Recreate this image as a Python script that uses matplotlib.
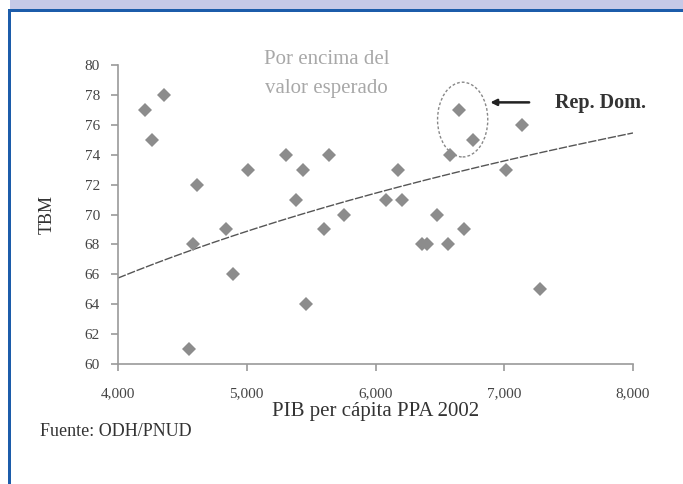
import numpy as np
import matplotlib.pyplot as plt
from matplotlib.patches import Rectangle, Ellipse

# PIB per capita PPA 2002 vs TBM
pib = [4210, 4264, 4357, 4613, 4582, 4838, 4892, 4551, 5008, 5303,
       5435, 5381, 5637, 5598, 5753, 5459, 6645, 6754, 6576, 7134,
       6172, 7010, 6079, 6203, 6475, 6685, 6362, 6402, 6560, 7274]
tbm = [77, 75, 78, 72, 68, 69, 66, 61, 73, 74,
       73, 71, 74, 69, 70, 64, 77, 75, 74, 76,
       73, 73, 71, 71, 70, 69, 68, 68, 68, 65]

# tendencia logaritmica
trend_a = 65.75
trend_b = 14.0
trend_x = np.linspace(4000, 8000, 200)

xticks = [4000, 5000, 6000, 7000, 8000]
xtick_labels = ['4,000', '5,000', '6,000', '7,000', '8,000']
yticks = [60, 62, 64, 66, 68, 70, 72, 74, 76, 78, 80]

plt.rcParams['font.family'] = ['Liberation Serif', 'DejaVu Serif']

W, H = 683, 484
fig = plt.figure(figsize=(W / 100, H / 100), dpi=100)
ax = fig.add_axes([118 / W, 1 - 364 / H, (633 - 118) / W, (364 - 65) / H])

# marco azul
fig.patches.append(Rectangle((10 / W, 1 - 10 / H), 1, 10 / H, transform=fig.transFigure,
                             facecolor='#c6c9e7', edgecolor='none'))
fig.patches.append(Rectangle((8 / W, 1 - 12 / H), 1, 3 / H, transform=fig.transFigure,
                             facecolor='#1c5caa', edgecolor='none'))
fig.patches.append(Rectangle((8 / W, 0), 2.5 / W, 1 - 10 / H, transform=fig.transFigure,
                             facecolor='#1c5caa', edgecolor='none'))

ax.plot(trend_x, trend_a + trend_b * np.log(trend_x / 4000), color='#555555',
        linewidth=1.0, linestyle=(0, (6, 1.2)))
ax.plot(pib, tbm, 'D', color='#8c8c8c', markersize=7, markeredgewidth=0)

ax.set_xlim(4000, 8000)
ax.set_ylim(60, 80)
ax.set_xticks(xticks)
ax.set_xticklabels(xtick_labels)
ax.set_yticks(yticks)
for s in ['top', 'right']:
    ax.spines[s].set_visible(False)
for s in ['left', 'bottom']:
    ax.spines[s].set_color('#9a9a9a')
    ax.spines[s].set_linewidth(1.2)
ax.tick_params(axis='x', length=5, width=1.2, color='#9a9a9a', pad=12,
               labelsize=11, labelcolor='#444444')
ax.tick_params(axis='y', length=5, width=1.2, color='#9a9a9a', pad=8,
               labelsize=11, labelcolor='#444444')

ax.set_xlabel('PIB per cápita PPA 2002', fontsize=15, color='#333333', labelpad=1)
ax.set_ylabel('TBM', fontsize=13, color='#333333', labelpad=21)

# anotaciones
ax.text(5620, 81.0, 'Por encima del\nvalor esperado', fontsize=15, color='#a8a8a8',
        ha='center', va='top', linespacing=1.7, clip_on=False)
ax.add_patch(Ellipse((6677, 76.35), 390, 5.0, fill=False, edgecolor='#888888',
                     linestyle=(0, (2, 1.5)), linewidth=1.0))
ax.annotate('', xy=(6870, 77.5), xytext=(7215, 77.5),
            arrowprops=dict(arrowstyle='-|>', color='#222222', lw=1.8,
                            mutation_scale=9))
ax.text(7395, 77.45, 'Rep. Dom.', fontsize=14.5, fontweight='bold', color='#333333',
        ha='left', va='center', clip_on=False)

fig.text(40 / W, 1 - 432 / H, 'Fuente: ODH/PNUD', fontsize=13, color='#333333',
         ha='left', va='center')

fig.savefig('out.png', dpi=100)
